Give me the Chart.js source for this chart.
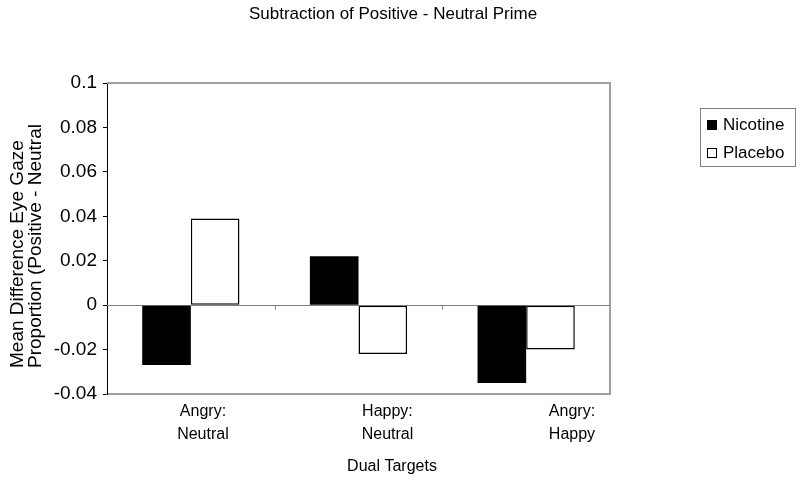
<!DOCTYPE html>
<html><head><meta charset="utf-8">
<script src="https://cdn.jsdelivr.net/npm/chart.js@4"></script>
<style>html,body{margin:0;padding:0;background:#fff;}#wrap{width:800px;height:484px;}</style>
</head><body><div id="wrap"><canvas id="c" width="800" height="484"></canvas></div>
<script>
const chartTitle = 'Subtraction of Positive - Neutral Prime';
const categories = [['Angry:', 'Neutral'], ['Happy:', 'Neutral'], ['Angry:', 'Happy']];
const seriesNames = ['Nicotine', 'Placebo'];
const nicotine = [-0.027, 0.022, -0.035];
const placebo = [0.039, -0.022, -0.020];
const yMin = -0.04, yMax = 0.1, yStep = 0.02;
const yTitleLines = ['Mean Difference Eye Gaze', 'Proportion (Positive - Neutral'];
const xTitle = 'Dual Targets';

const FONT = '"Liberation Sans", Arial, sans-serif';

const decor = {
  id: 'decor',
  beforeDatasetsDraw(chart) {
    const {ctx, chartArea: a, scales} = chart;
    const y0 = Math.round(scales.y.getPixelForValue(0)) + 0.5;
    ctx.save();
    ctx.strokeStyle = '#a0a0a0';
    ctx.lineWidth = 2;
    ctx.beginPath();
    ctx.moveTo(a.left, a.top); ctx.lineTo(a.right, a.top); ctx.lineTo(a.right, a.bottom);
    ctx.stroke();
    ctx.strokeStyle = '#808080';
    ctx.lineWidth = 1;
    ctx.beginPath();
    ctx.moveTo(a.left, y0); ctx.lineTo(a.right, y0);
    const xs = scales.x;
    for (let i = 0; i < categories.length - 1; i++) {
      const bx = Math.round((xs.getPixelForValue(i) + xs.getPixelForValue(i + 1)) / 2) + 0.5;
      ctx.moveTo(bx, y0); ctx.lineTo(bx, y0 + 4);
    }
    ctx.stroke();
    ctx.restore();
  },
  afterDraw(chart) {
    const {ctx} = chart;
    ctx.save();
    ctx.fillStyle = '#000';
    ctx.font = '17px ' + FONT;
    ctx.textAlign = 'center';
    ctx.textBaseline = 'alphabetic';
    ctx.fillText(chartTitle, 393, 19);
    ctx.font = '16px ' + FONT;
    ctx.textBaseline = 'middle';
    ctx.fillText(xTitle, 392, 467);
    ctx.font = '19px ' + FONT;
    const yx = [18, 36];
    yTitleLines.forEach((t, i) => {
      ctx.save();
      ctx.translate(yx[i], 368);
      ctx.rotate(-Math.PI / 2);
      ctx.textAlign = 'left';
      ctx.textBaseline = 'middle';
      ctx.fillText(t, 0, 0);
      ctx.restore();
    });
    ctx.strokeStyle = '#808080';
    ctx.lineWidth = 1;
    ctx.strokeRect(700.5, 108.5, 95, 58);
    ctx.font = '17px ' + FONT;
    ctx.textAlign = 'left';
    const ly = [125, 153];
    chart.data.datasets.forEach((ds, i) => {
      ctx.fillStyle = ds.backgroundColor;
      ctx.fillRect(707, ly[i] - 5, 10, 10);
      ctx.strokeStyle = '#000';
      ctx.lineWidth = 1;
      ctx.strokeRect(707.5, ly[i] - 4.5, 9, 9);
      ctx.fillStyle = '#000';
      ctx.fillText(ds.label, 723, ly[i]);
    });
    ctx.restore();
  }
};

new Chart(document.getElementById('c'), {
  type: 'bar',
  data: {
    labels: categories,
    datasets: [
      {label: seriesNames[0], data: nicotine, xAxisID: 'x', yAxisID: 'y',
       backgroundColor: '#000000', borderColor: '#000000', borderWidth: 0,
       categoryPercentage: 0.58, barPercentage: 1.0},
      {label: seriesNames[1], data: placebo, xAxisID: 'x', yAxisID: 'y',
       backgroundColor: '#ffffff', borderColor: '#000000', borderWidth: 1.5, borderSkipped: false,
       categoryPercentage: 0.58, barPercentage: 1.0}
    ]
  },
  options: {
    responsive: false,
    animation: false,
    devicePixelRatio: 1,
    layout: {padding: {left: 0, top: 83, right: 190, bottom: 0}},
    plugins: {legend: {display: false}, title: {display: false}, tooltip: {enabled: false}},
    scales: {
      x: {type: 'category', display: false},
      xl: {
        type: 'linear', axis: 'x', position: 'bottom', offset: false,
        min: 0.48, max: 3.206,
        grid: {display: false, drawTicks: false, offset: false},
        border: {display: true, color: '#a0a0a0', width: 2},
        ticks: {
          stepSize: 1, includeBounds: false, autoSkip: false, maxRotation: 0,
          font: {size: 16, family: FONT, lineHeight: 1.45}, color: '#000', padding: 6,
          callback: (v) => (Number.isInteger(v) && v >= 1 && v <= categories.length) ? categories[v - 1] : ''
        },
        afterFit: (s) => { s.height = 90; }
      },
      y: {
        min: yMin, max: yMax,
        grid: {drawOnChartArea: false, drawTicks: true, tickLength: 4, color: '#000'},
        border: {display: true, color: '#000', width: 1},
        ticks: {
          stepSize: yStep, font: {size: 19, family: FONT}, color: '#000', padding: 6,
          callback: (v) => Number(v.toFixed(2)).toString()
        },
        afterFit: (s) => { s.width = 107; }
      }
    }
  },
  plugins: [decor]
});
</script></body></html>
